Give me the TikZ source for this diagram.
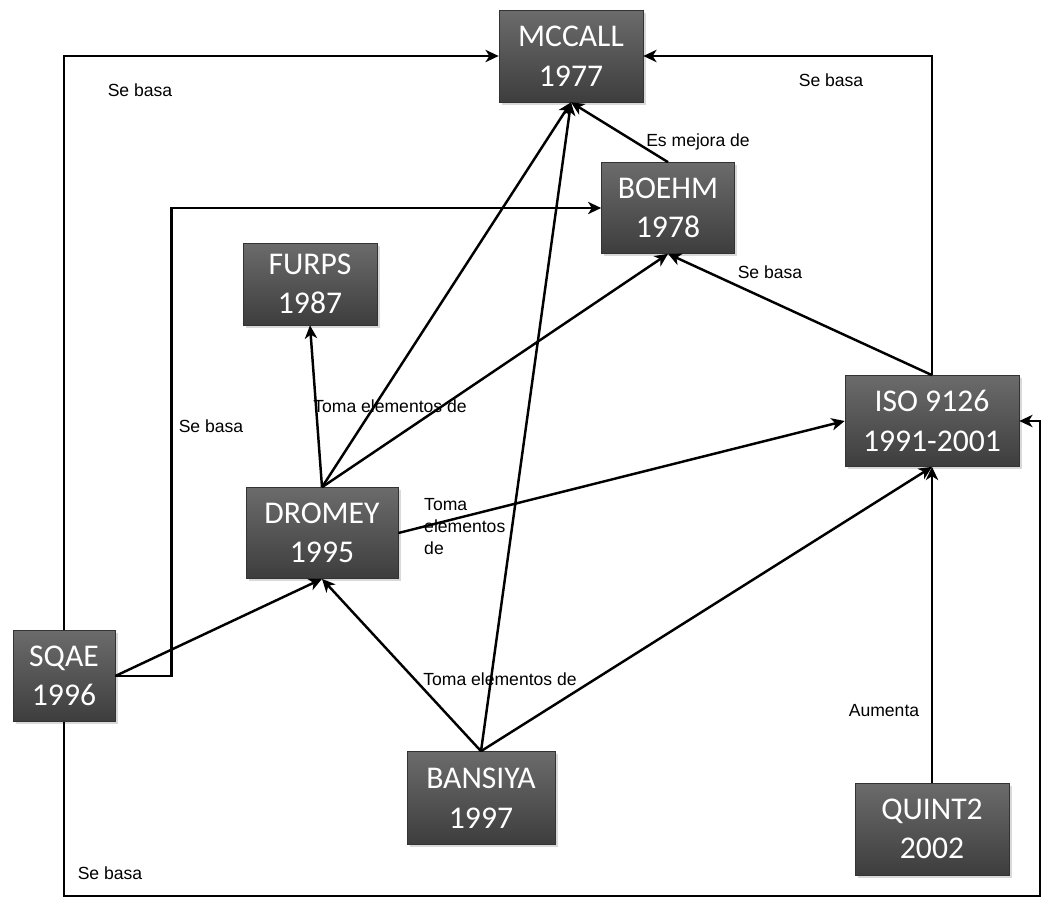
\documentclass[tikz,border=0pt]{standalone}
\usepackage{fontspec}
\setmainfont{Liberation Sans}
\newfontfamily\boxfont{Carlito}
\usetikzlibrary{
  arrows.meta,
  shadows
}

\begin{document}
\begin{tikzpicture}[x=0.02cm,y=-0.02cm,line width=1.4pt,
  >={Stealth[length=7.5pt,width=7pt,inset=2.2pt]},
  model/.style={draw=black!80,line width=0.4pt,top color=black!58,bottom color=black!76,
    text=white,align=center,inner sep=0pt,font=\boxfont\fontsize{18}{22.5}\selectfont,
    drop shadow={opacity=0.3,shadow xshift=1.5pt,shadow yshift=-1.5pt}},
  rel/.style={inner sep=0pt,font=\fontsize{10}{12.5}\selectfont}]
  \useasboundingbox (0,0) rectangle (1043,899);
  \node[model,minimum width=2.88cm,minimum height=1.84cm] (mccall) at (571,56) {MCCALL\\1977};
  \node[model,minimum width=2.66cm,minimum height=1.82cm] (boehm) at (668,208) {BOEHM\\1978};
  \node[model,minimum width=2.68cm,minimum height=1.64cm] (furps) at (310,284) {FURPS\\1987};
  \node[model,minimum width=3.48cm,minimum height=1.82cm] (iso) at (932,421) {ISO 9126\\1991-2001};
  \node[model,minimum width=3.04cm,minimum height=1.82cm] (dromey) at (322,533) {DROMEY\\1995};
  \node[model,minimum width=2.04cm,minimum height=1.82cm] (sqae) at (64,676) {SQAE\\1996};
  \node[model,minimum width=2.96cm,minimum height=1.86cm] (bansiya) at (481,798) {BANSIYA\\1997};
  \node[model,minimum width=3.08cm,minimum height=1.84cm] (quint) at (932,829) {QUINT2\\2002};
  \node[rel] (lblsqaemc) at (140,90) {Se basa};
  \node[rel] (lblisomc) at (831,80) {Se basa};
  \node[rel] (lblboehm) at (698,142) {Es mejora de};
  \node[rel] (lblisoboehm) at (770,272) {Se basa};
  \node[rel] (lblsqaeboehm) at (211,426) {Se basa};
  \node[rel] (lblfurps) at (390,406) {Toma elementos de};
  \node[rel,align=left,anchor=north west] (lbliso) at (423,497) {Toma\\elementos\\de};
  \node[rel] (lblbansiya) at (500,679) {Toma elementos de};
  \node[rel] (lblquint) at (884,711) {Aumenta};
  \node[rel] (lblsqaeiso) at (110,873) {Se basa};
  \coordinate (corner) at (1040,896);
  \draw[->] (sqae.north) |- (mccall.west);
  \draw[->] (sqae.east) -- ++(56,0) |- (boehm.west);
  \draw[->] (sqae.east) -- (dromey.south);
  \draw[->] (sqae.south) |- (corner) |- (iso.east);
  \draw[->] (iso.north) |- (mccall.east);
  \draw[->] (boehm.north) -- (mccall.south);
  \draw[->] (iso.north) -- (boehm.south);
  \draw[->] (dromey.north) -- (furps.south);
  \draw[->] (dromey.north) -- (mccall.south);
  \draw[->] (dromey.north) -- (boehm.south);
  \draw[->] (dromey.east) -- (iso.west);
  \draw[->] (bansiya.north) -- (dromey.south);
  \draw[->] (bansiya.north) -- (mccall.south);
  \draw[->] (bansiya.north) -- (iso.south);
  \draw[->] (quint.north) -- (iso.south);
\end{tikzpicture}
\end{document}
